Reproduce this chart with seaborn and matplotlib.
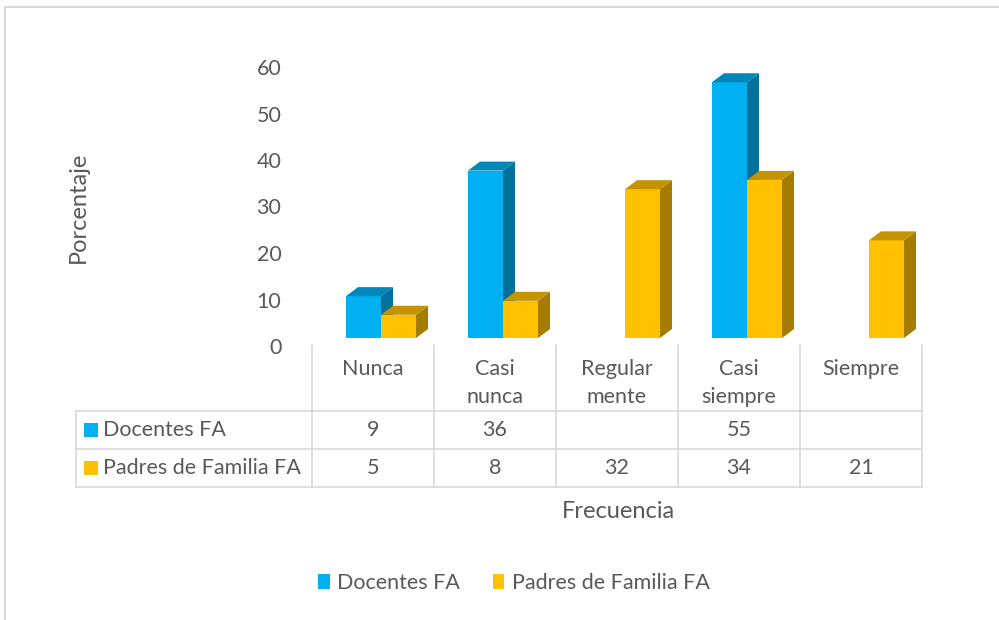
import matplotlib
matplotlib.use("Agg")
import matplotlib.pyplot as plt
import seaborn as sns
import pandas as pd
from matplotlib.patches import Polygon, Patch, Rectangle
from matplotlib.lines import Line2D
from matplotlib.transforms import ScaledTranslation, blended_transform_factory

# ---- data ----
categories = ["Nunca", "Casi\nnunca", "Regular\nmente", "Casi\nsiempre", "Siempre"]
series_names = ["Docentes FA", "Padres de Familia FA"]
docentes = [9, 36, None, 55, None]
padres = [5, 8, 32, 34, 21]
yticks = [0, 10, 20, 30, 40, 50, 60]

# ---- style ----
colors = ["#00B0F0", "#FFC000"]
side_colors = ["#00719B", "#A67C00"]
top_colors = ["#0088BB", "#C49300"]
text_color = "#595959"
line_color = "#D9D9D9"
FS = 15.5

W, H = 999, 620
sns.set_theme(style="white")
plt.rcParams["font.family"] = ["Lato", "DejaVu Sans"]

fig = plt.figure(figsize=(W / 100, H / 100), dpi=100)
fig.patch.set_facecolor("white")


def fx(px):
    return px / W


def fy(py):
    return 1 - py / H


ax = fig.add_axes([fx(312), fy(338), fx(922) - fx(312), fy(59) - fy(338)])
ax.set_facecolor("none")

rows = []
for name, vals in zip(series_names, [docentes, padres]):
    for c, v in zip(categories, vals):
        if v is not None:
            rows.append({"cat": c, "serie": name, "val": v})
df = pd.DataFrame(rows)

sns.barplot(data=df, x="cat", y="val", hue="serie", order=categories,
            hue_order=series_names, palette=colors, width=0.574, dodge=True,
            saturation=1, legend=False, ax=ax, linewidth=0, err_kws={"linewidth": 0})

ax.set_xlim(-0.5, 4.5)
ax.set_ylim(0, 60)
for s in ax.spines.values():
    s.set_visible(False)
ax.set_xlabel("")
ax.set_ylabel("")
ax.tick_params(axis="x", bottom=False, labelbottom=False)
ax.set_yticks(yticks)
ax.tick_params(axis="y", left=False, pad=16, labelsize=FS, labelcolor=text_color)
ax.grid(False)
off = ScaledTranslation(0, -8 / 100, fig.dpi_scale_trans)
for lab in ax.get_yticklabels():
    lab.set_transform(lab.get_transform() + off)

# 3D look: shift + side and top faces
shift = 8 / 122.0
ddx = 12 / 122.0
ddy = 9 / (279 / 60.0)
for i, cont in enumerate(ax.containers):
    for p in cont.patches:
        h = p.get_height()
        if h != h or h == 0:
            continue
        p.set_x(p.get_x() + shift)
        p.set_zorder(2 + i)
        x0 = p.get_x()
        x1 = x0 + p.get_width()
        side = Polygon([(x1, 0), (x1 + ddx, ddy), (x1 + ddx, h + ddy), (x1, h)],
                       closed=True, facecolor=side_colors[i], edgecolor="none",
                       zorder=2 + i, clip_on=False)
        top = Polygon([(x0, h), (x1, h), (x1 + ddx, h + ddy), (x0 + ddx, h + ddy)],
                      closed=True, facecolor=top_colors[i], edgecolor="none",
                      zorder=2 + i, clip_on=False)
        ax.add_patch(side)
        ax.add_patch(top)

# ---- data table ----
trans = blended_transform_factory(ax.transData, fig.transFigure)
lw = 1.2
for k in range(len(categories) + 1):
    xb = k - 0.5
    ax.add_line(Line2D([xb, xb], [fy(345), fy(487)], transform=trans,
                       color=line_color, lw=lw, clip_on=False))
for yy in [411, 449, 487]:
    fig.add_artist(Line2D([fx(76), fx(922)], [fy(yy), fy(yy)],
                          transform=fig.transFigure, color=line_color, lw=lw))
fig.add_artist(Line2D([fx(76), fx(76)], [fy(411), fy(487)],
                      transform=fig.transFigure, color=line_color, lw=lw))

for i, cat in enumerate(categories):
    for k, line in enumerate(cat.split("\n")):
        ax.text(i, fy(369 + 28 * k), line, transform=trans, ha="center",
                va="center", fontsize=FS, color=text_color)

for r, (name, vals, col) in enumerate(zip(series_names, [docentes, padres], colors)):
    yc = 430 + 38 * r
    fig.add_artist(Rectangle((fx(84), fy(yc + 7)), 14 / W, 14 / H,
                             transform=fig.transFigure, facecolor=col, edgecolor="none"))
    fig.text(fx(103), fy(yc), name, ha="left", va="center", fontsize=FS,
             color=text_color)
    for i, v in enumerate(vals):
        if v is not None:
            ax.text(i, fy(yc), str(v), transform=trans, ha="center", va="center",
                    fontsize=FS, color=text_color)

fig.text(fx(618), fy(511), "Frecuencia", ha="center", va="center",
         fontsize=17, color=text_color)
fig.text(fx(78), fy(207), "Porcentaje", ha="center", va="center",
         rotation=90, fontsize=17, color=text_color)

handles = [Patch(facecolor=c, edgecolor="none", label=n)
           for c, n in zip(colors, series_names)]
fig.legend(handles=handles, loc="center", bbox_to_anchor=(fx(514), fy(583)),
           ncol=2, frameon=False, handlelength=0.55, handleheight=0.65,
           handletextpad=0.35, columnspacing=1.5, fontsize=FS,
           labelcolor=text_color)

# outer border
fig.add_artist(Line2D([fx(5), fx(999)], [fy(7), fy(7)], transform=fig.transFigure,
                      color=line_color, lw=1.5))
fig.add_artist(Line2D([fx(5), fx(5)], [fy(7), fy(620)], transform=fig.transFigure,
                      color=line_color, lw=1.5))

fig.savefig("out.png", dpi=100)
